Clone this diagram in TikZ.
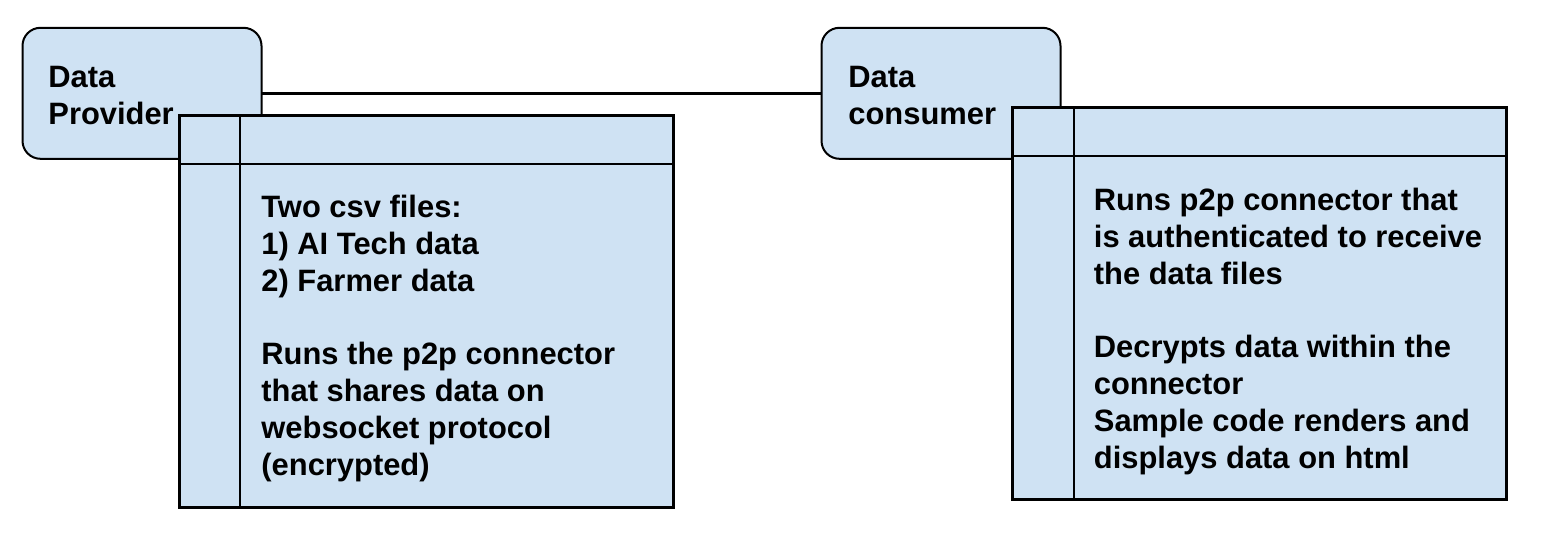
\documentclass[tikz,border=0pt]{standalone}
\usepackage{fontspec}
\setmainfont{Liberation Sans}
\definecolor{boxblue}{HTML}{CFE2F3}
\newcommand{\lines}[1]{\begin{tabular}[t]{@{}l@{}}#1\end{tabular}}
\begin{document}
\begin{tikzpicture}[x=0.5pt,y=-0.5pt,
  actor/.style={draw=black, line width=1pt, fill=boxblue, rounded corners=9pt,
    minimum width=119.5pt, minimum height=65.5pt, inner sep=0pt, outer sep=0pt},
  tablebox/.style={draw=black, line width=1.5pt, fill=boxblue,
    minimum width=247pt, minimum height=196.2pt, inner sep=0pt, outer sep=0pt},
  innerline/.style={draw=black, line width=1pt},
  link/.style={draw=black, line width=1.6pt},
  lbl/.style={font=\bfseries\fontsize{15.45}{18.4}\selectfont,
    inner sep=0pt, anchor=base west}]
\fill[white] (0,0) rectangle (1558,536);
\useasboundingbox (0,0) rectangle (1558,536);

% actors
\node[actor] (prov) at (142,93.3) {};
\node[actor] (cons) at (941,93.3) {};
\node[lbl] (provtxt) at (48,87.3) {\lines{Data\\Provider}};
\node[lbl] (constxt) at (848,87.3) {\lines{Data\\consumer}};

% connector
\draw[link] (prov.east) -- (cons.west);

% left table
\node[tablebox] (ltab) at (426.5,311.2) {};
\draw[innerline] ([xshift=30.4pt]ltab.north west) -- ([xshift=30.4pt]ltab.south west);
\draw[innerline] ([yshift=-24.5pt]ltab.north west) -- ([yshift=-24.5pt]ltab.north east);
\node[lbl] (ltxt) at (261,217.7) {\lines{Two csv files:\\1) AI Tech data\\2) Farmer data\\[18.4pt]Runs the p2p connector\\that shares data on\\websocket protocol\\(encrypted)}};

% right table
\node[tablebox] (rtab) at (1259.8,303.7) {};
\draw[innerline] ([xshift=30.6pt]rtab.north west) -- ([xshift=30.6pt]rtab.south west);
\draw[innerline] ([yshift=-24.4pt]rtab.north west) -- ([yshift=-24.4pt]rtab.north east);
\node[lbl] (rtxt) at (1093.5,210.7) {\lines{Runs p2p connector that\\is authenticated to receive\\the data files\\[18.4pt]Decrypts data within the\\connector\\Sample code renders and\\displays data on html}};
\end{tikzpicture}
\end{document}
